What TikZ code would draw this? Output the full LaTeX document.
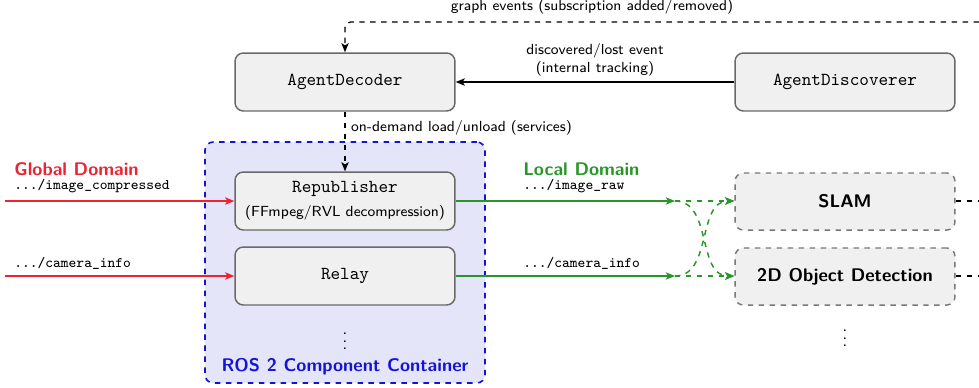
\documentclass[tikz,border=0pt]{standalone}
\usetikzlibrary{arrows.meta}
\definecolor{domred}{RGB}{235,35,50}
\definecolor{domgreen}{RGB}{40,150,40}
\definecolor{contblue}{RGB}{20,20,215}
\definecolor{contfill}{RGB}{229,229,250}
\definecolor{boxfill}{RGB}{240,240,240}
\definecolor{boxline}{RGB}{105,105,105}
\definecolor{slamline}{RGB}{120,120,120}
\begin{document}
\begin{tikzpicture}[x=0.547pt, y=-0.547pt, font=\sffamily,
  >={Stealth[length=5pt,width=4pt,inset=1.2pt]},
  compbox/.style={draw=boxline, fill=boxfill, line width=0.8pt, rounded corners=4.5pt,
    minimum width=120.3pt, minimum height=31.7pt, align=center, inner sep=0pt},
  taskbox/.style={draw=slamline, fill=boxfill, line width=0.8pt, dashed, rounded corners=4.5pt,
    minimum width=120.3pt, minimum height=31.2pt, font=\sffamily\bfseries, inner sep=0pt},
  container/.style={draw=contblue, fill=contfill, line width=0.9pt, dashed, rounded corners=4.5pt,
    minimum width=153.2pt, minimum height=131.8pt, inner sep=0pt},
  lbl/.style={font=\sffamily\footnotesize, inner sep=1pt},
  topic/.style={font=\ttfamily\footnotesize, anchor=base west, inner sep=0pt},
  domlabel/.style={font=\sffamily\bfseries, anchor=base west, inner sep=0pt},
  ctrl/.style={->, line width=0.7pt},
  ctrldash/.style={->, line width=0.7pt, dashed},
  globalflow/.style={->, draw=domred, line width=0.8pt},
  localflow/.style={->, draw=domgreen, line width=0.8pt},
  localfan/.style={->, draw=domgreen, line width=0.8pt, dashed},
  outflow/.style={line width=0.7pt, dashed}]

\useasboundingbox (0,0) rectangle (979,387);

% component container (behind its components)
\node[container] (cont) at (345,262.5) {};
\node[font=\sffamily\bfseries, text=contblue] (contlabel) at (345,367) {ROS 2 Component Container};

% control nodes
\node[compbox] (dec) at (345,82) {\ttfamily AgentDecoder};
\node[compbox] (disc) at (845,82) {\ttfamily AgentDiscoverer};

% components inside the container
\node[compbox] (rep) at (345,201) {{\ttfamily Republisher}\\[1pt]{\footnotesize (FFmpeg/RVL decompression)}};
\node[compbox] (relay) at (345,276) {\ttfamily Relay};
\node (dotsc) at (345,336) {$\vdots$};

% local consumers
\node[taskbox] (slam) at (845,201.5) {SLAM};
\node[taskbox] (det) at (845,276.5) {2D Object Detection};
\node (dotsl) at (845,333) {$\vdots$};

% graph events feed
\coordinate (gev) at (979,22);
\draw[ctrldash, rounded corners=3pt] (gev) -| (dec.north);
\node[lbl] (gevlabel) at (592,7) {graph events (subscription added/removed)};

% discovery events
\draw[ctrl] (disc.west) -- (dec.east)
  node[midway, above=2pt, lbl, align=center] (disclabel) {discovered/lost event\\(internal tracking)};

% on-demand loading
\draw[ctrldash] (dec.south) -- (rep.north)
  node[pos=0.27, right=2pt, lbl] (loadlabel) {on-demand load/unload (services)};

% global domain inputs
\coordinate (gin1) at (5,201);
\coordinate (gin2) at (5,276);
\draw[globalflow] (gin1) -- (rep.west);
\draw[globalflow] (gin2) -- (relay.west);
\node[domlabel, text=domred] (gdom) at (14,175.5) {Global Domain};
\node[topic] (t1) at (14,189) {.../image\_compressed};
\node[topic] (t2) at (14,267) {.../camera\_info};

% local domain outputs
\coordinate (lj1) at (675,201);
\coordinate (lj2) at (675,276);
\draw[localflow] (rep.east) -- (lj1);
\draw[localflow] (relay.east) -- (lj2);
\node[domlabel, text=domgreen] (ldom) at (523,175.5) {Local Domain};
\node[topic] (t3) at (523,189) {.../image\_raw};
\node[topic] (t4) at (523,267) {.../camera\_info};

% fan-out to the consumers
\draw[localfan] (lj1) -- (slam.west |- lj1);
\draw[localfan] (lj1) to[out=0, in=180] (det.west |- lj2);
\draw[localfan] (lj2) to[out=0, in=180] (slam.west |- lj1);
\draw[localfan] (lj2) -- (det.west |- lj2);

% consumers feeding the graph events
\coordinate (o1) at (979,201);
\coordinate (o2) at (979,276);
\draw[outflow] (slam.east |- o1) -- (o1);
\draw[outflow] (det.east |- o2) -- (o2);
\end{tikzpicture}
\end{document}
